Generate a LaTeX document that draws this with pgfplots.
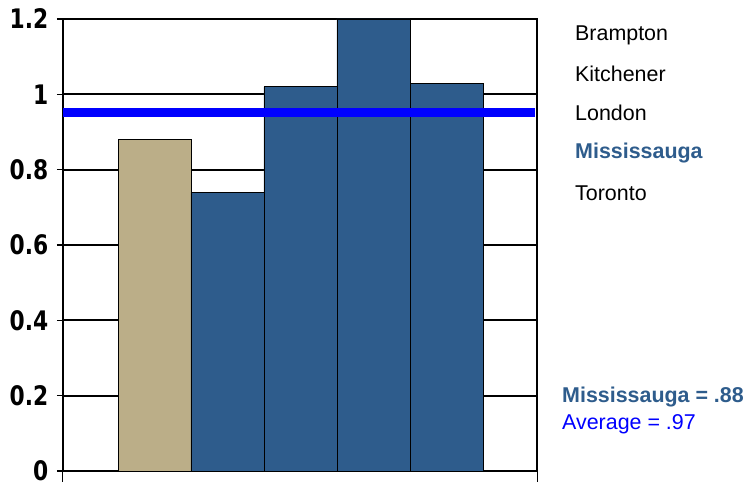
\documentclass[border=0pt]{standalone}
\usepackage{fontspec}
\setmainfont{Liberation Sans}
\newfontfamily\tickfont[FakeStretch=0.9]{DejaVu Sans Condensed}
\usepackage{pgfplots}
\pgfplotsset{compat=1.18}
\definecolor{barblue}{RGB}{46,92,140}
\definecolor{bartan}{RGB}{187,174,136}
\definecolor{avgblue}{RGB}{0,0,255}
\begin{document}
\begin{tikzpicture}[x=1bp,y=1bp]
\useasboundingbox (-63,-11) rectangle (688,471);
\begin{axis}[
  at={(0,0)}, anchor=south west,
  scale only axis, width=474bp, height=452bp,
  xmin=-1.253, xmax=5.240, ymin=0, ymax=1.2,
  ytick={0,0.2,...,1.21},
  yticklabel style={font=\tickfont\bfseries\fontsize{27}{27}\selectfont, /pgf/number format/assume math mode=true, xshift=-7bp},
  xtick={-1.253,5.240}, xticklabels={},
  xtick style={/pgfplots/major tick length=11bp, black, line width=1bp},
  ytick style={/pgfplots/major tick length=6bp, black, line width=1.2bp},
  tick align=outside, tick pos=left,
  ymajorgrids, grid style={black, line width=1.7bp},
  axis line style={black, line width=1.3bp},
  clip=true,
]
\addplot[ybar, bar width=1, bar shift=0pt, fill=bartan, draw=black, line width=0.8bp] coordinates {(0,0.88)};
\addplot[ybar, bar width=1, bar shift=0pt, fill=barblue, draw=black, line width=0.8bp] coordinates {(1,0.74) (2,1.02) (3,1.2) (4,1.03)};
\addplot[avgblue, line width=9bp] coordinates {(-1.253,0.952) (5.21,0.952)};
\end{axis}
\begin{scope}[every node/.style={anchor=west, inner sep=0pt, font=\fontsize{21.5}{24}\selectfont}]
\node at (512,436) {Brampton};
\node at (512,397) {Kitchener};
\node at (512,358) {London};
\node[text=barblue, font=\fontsize{21.5}{24}\selectfont\bfseries] at (512,318) {Mississauga};
\node at (512,278) {Toronto};
\node[text=barblue, font=\fontsize{21.5}{24}\selectfont\bfseries] at (499,74) {Mississauga = .88};
\node[text=avgblue] at (499,47) {Average = .97};
\end{scope}
\end{tikzpicture}
\end{document}
